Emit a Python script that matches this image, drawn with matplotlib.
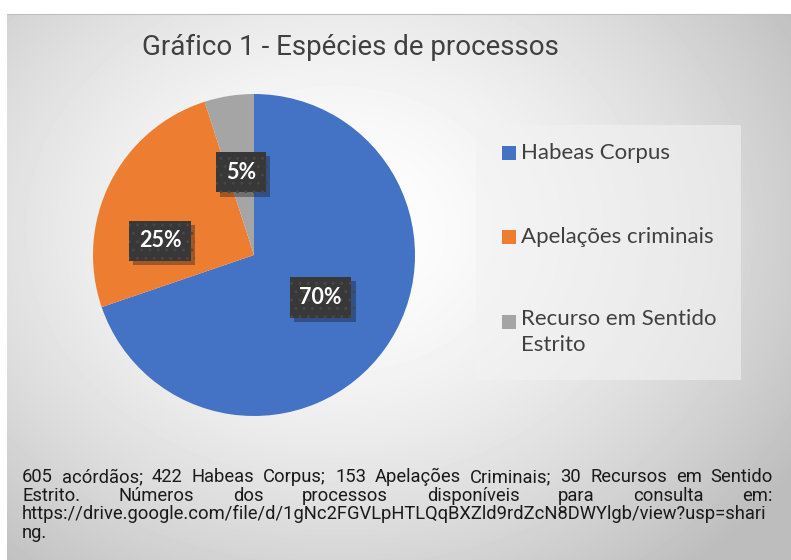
import numpy as np
import matplotlib
matplotlib.use("Agg")
import matplotlib.pyplot as plt
import matplotlib.patheffects as pe

# data
categories = ["Habeas Corpus", "Apelações criminais", "Recurso em Sentido\nEstrito"]
counts = [422, 153, 30]
colors = ["#4472C4", "#ED7D31", "#A5A5A5"]
title = "Gráfico 1 - Espécies de processos"
caption_lines = [
    "605 acórdãos; 422 Habeas Corpus; 153 Apelações Criminais; 30 Recursos em Sentido",
    "Estrito. Números dos processos disponíveis para consulta em:",
    "https://drive.google.com/file/d/1gNc2FGVLpHTLQqBXZld9rdZcN8DWYlgb/view?usp=shari",
    "ng.",
]

W, H = 791, 560
narrow = ["Roboto", "DejaVu Sans"]
calib = ["Lato", "DejaVu Sans"]

fig = plt.figure(figsize=(W / 100, H / 100), dpi=100)
ax = fig.add_axes([0, 0, 1, 1])

# radial gradient background (pixel coords, y up)
yy, xx = np.mgrid[0:H - 14, 0:W - 7]
cx, cy = 330, 330
d = np.sqrt(((xx - cx) / 520.0) ** 2 + ((yy - cy) / 420.0) ** 2)
g = np.clip(1.0 - 0.24 * d ** 1.6, 0.74, 1.0)
ax.imshow(g, cmap="gray", vmin=0, vmax=1, extent=[7, W, 0, H - 14],
          origin="lower", zorder=0, interpolation="bilinear")
ax.plot([7, W], [H - 14, H - 14], color="#bfbfbf", lw=0.8, zorder=1)

# pie
center = (254, H - 255)
radius = 161
wedges, texts, autotexts = ax.pie(
    counts, colors=colors, startangle=90, counterclock=False,
    center=center, radius=radius, autopct="%1.0f%%", pctdistance=0.55,
    wedgeprops=dict(linewidth=0), frame=True,
    textprops=dict(color="white", fontsize=15.5, fontweight="bold", family=calib))
ax.set_xlim(0, W)
ax.set_ylim(0, H)
ax.set_aspect("equal")
ax.axis("off")

# label placement (fraction of radius, angle tweak in degrees)
place = [(0.49, 3), (0.59, 18), (0.52, 0)]
for w, t, (fr, da) in zip(wedges, autotexts, place):
    ang = np.deg2rad((w.theta1 + w.theta2) / 2 + da)
    t.set_position((center[0] + fr * radius * np.cos(ang),
                    center[1] + fr * radius * np.sin(ang)))
    t.set_ha("center")
    t.set_va("center")
    t.set_bbox(dict(boxstyle="square,pad=0.45", facecolor="#383838",
                    edgecolor="#474747", hatch="..", linewidth=0))
    t.get_bbox_patch().set_path_effects(
        [pe.SimplePatchShadow(offset=(3, -3), alpha=0.35), pe.Normal()])

# title
ax.text(350, H - 47, title, ha="center", va="center", fontsize=20,
        color="#404040", family=narrow)

# legend box
ax.add_patch(plt.Rectangle((476, H - 380), 265, 255, facecolor="#f2f2f2",
                           alpha=0.6, edgecolor="none", zorder=2))
leg_y = [153, 237, 322]
for c, lab, y in zip(colors, categories, leg_y):
    ax.add_patch(plt.Rectangle((502, H - y - 7), 14, 14, facecolor=c,
                               edgecolor="none", zorder=3))
    if "\n" in lab:
        ax.text(521, H - y + 13, lab, ha="left", va="top", fontsize=16,
                color="#404040", family=calib, zorder=3, linespacing=1.4)
    else:
        ax.text(521, H - y, lab, ha="left", va="center", fontsize=16,
                color="#404040", family=calib, zorder=3)

# caption, justified; size chosen so the long lines fit the width
fig.canvas.draw()
r = fig.canvas.get_renderer()
left, right = 22, 773
fs = 99
for line, target in [(caption_lines[0], right - left), (caption_lines[2], 763 - left)]:
    probe = ax.text(0, 0, line, fontsize=10, family=narrow)
    fs = min(fs, 10 * target / probe.get_window_extent(r).width)
    probe.remove()
cap_y = [477, 496, 514, 533]
for i, (line, y) in enumerate(zip(caption_lines, cap_y)):
    if i < 2:
        words = line.split(" ")
        objs = [ax.text(0, H - y, wd, ha="left", va="center", fontsize=fs,
                        color="#1a1a1a", family=narrow) for wd in words]
        widths = [o.get_window_extent(r).width for o in objs]
        gap = (right - left - sum(widths)) / (len(words) - 1)
        x = left
        for o, wdt in zip(objs, widths):
            o.set_x(x)
            x += wdt + gap
    else:
        ax.text(left, H - y, line, ha="left", va="center", fontsize=fs,
                color="#1a1a1a", family=narrow)

fig.savefig("out.png", dpi=100)
